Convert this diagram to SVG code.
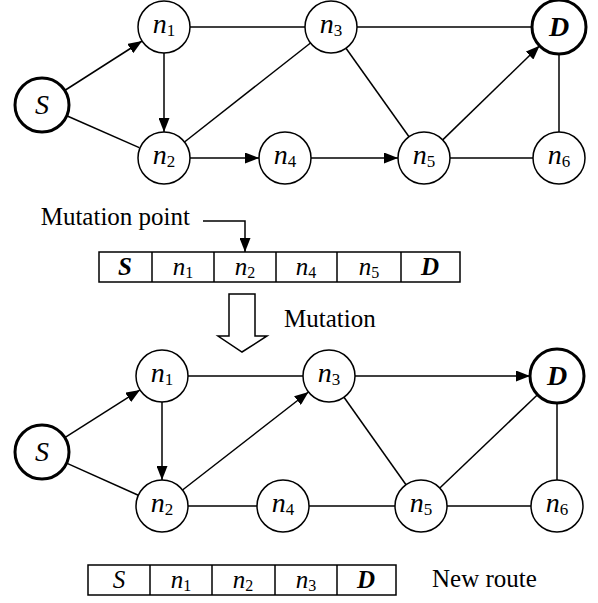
<svg xmlns="http://www.w3.org/2000/svg" width="598" height="603" viewBox="0 0 598 603">
<defs>
<marker id="ah" markerUnits="userSpaceOnUse" markerWidth="14" markerHeight="11" refX="14" refY="5.5" orient="auto"><path d="M0,0 L14,5.5 L0,11 z" fill="#000"/></marker>
<style>
.nd{fill:#fff;stroke:#000;stroke-width:1.5}
.bd{fill:#fff;stroke:#000;stroke-width:3}
.e{stroke:#000;stroke-width:1.5;fill:none}
.a{stroke:#000;stroke-width:1.5;fill:none;marker-end:url(#ah)}
text{font-family:'Liberation Serif','DejaVu Serif',serif;fill:#000}
.lb{font-size:28px;font-style:italic;text-anchor:middle}
.sb{font-style:normal;font-size:17px}
.bl{font-weight:bold}
.tx{font-size:25px}
.cell{fill:#fff;stroke:#000;stroke-width:1.5}
.tl{font-size:25px;font-style:italic;text-anchor:middle}
.ts{font-style:normal;font-size:16px}
</style>
</defs>
<rect width="598" height="603" fill="#fff"/>
<g id="connectors">
<line class="a" x1="64.7" y1="90.5" x2="142.1" y2="41"/>
<line class="e" x1="66.7" y1="115.8" x2="139.2" y2="147.6"/>
<line class="a" x1="164" y1="53" x2="164" y2="132"/>
<line class="e" x1="190" y1="27" x2="305" y2="27"/>
<line class="e" x1="184.5" y1="142" x2="310.5" y2="43"/>
<line class="a" x1="190" y1="158" x2="259" y2="158"/>
<line class="a" x1="311" y1="158" x2="398" y2="158"/>
<line class="e" x1="357" y1="27" x2="532" y2="27"/>
<line class="e" x1="346" y1="48.2" x2="409" y2="136.8"/>
<line class="a" x1="442.7" y1="139.9" x2="539.6" y2="45.8"/>
<line class="e" x1="559" y1="54" x2="559" y2="132"/>
<line class="e" x1="450" y1="158" x2="533" y2="158"/>
<polyline class="a" points="203,221 245,221 245,252"/>
<path d="M229,294 H255 V336 H267 L242,352 L218,336 H229 Z" fill="#fff" stroke="#000" stroke-width="1.5"/>
<line class="a" x1="64.8" y1="437.6" x2="140" y2="389.9"/>
<line class="e" x1="66.6" y1="463.1" x2="138.3" y2="495.3"/>
<line class="a" x1="162" y1="402" x2="162" y2="480"/>
<line class="e" x1="188" y1="376" x2="303" y2="376"/>
<line class="a" x1="182.5" y1="490" x2="308.5" y2="392"/>
<line class="e" x1="188" y1="506" x2="257" y2="506"/>
<line class="e" x1="309" y1="506" x2="395" y2="506"/>
<line class="a" x1="355" y1="376" x2="530" y2="376"/>
<line class="e" x1="344" y1="397.2" x2="406" y2="484.8"/>
<line class="e" x1="439.8" y1="488" x2="537.5" y2="394.7"/>
<line class="e" x1="557" y1="403" x2="557" y2="480"/>
<line class="e" x1="447" y1="506" x2="531" y2="506"/>
</g>
<g id="t-S"><circle class="bd" cx="42" cy="105" r="27"/><text class="lb" x="42" y="114">S</text></g>
<g id="t-n1"><circle class="nd" cx="164" cy="27" r="26"/><text class="lb" x="164" y="33">n<tspan class="sb" dy="3">1</tspan></text></g>
<g id="t-n2"><circle class="nd" cx="164" cy="158" r="26"/><text class="lb" x="164" y="164">n<tspan class="sb" dy="3">2</tspan></text></g>
<g id="t-n3"><circle class="nd" cx="331" cy="27" r="26"/><text class="lb" x="331" y="33">n<tspan class="sb" dy="3">3</tspan></text></g>
<g id="t-n4"><circle class="nd" cx="285" cy="158" r="26"/><text class="lb" x="285" y="164">n<tspan class="sb" dy="3">4</tspan></text></g>
<g id="t-n5"><circle class="nd" cx="424" cy="158" r="26"/><text class="lb" x="424" y="164">n<tspan class="sb" dy="3">5</tspan></text></g>
<g id="t-n6"><circle class="nd" cx="559" cy="158" r="26"/><text class="lb" x="559" y="164">n<tspan class="sb" dy="3">6</tspan></text></g>
<g id="t-D"><circle class="bd" cx="559" cy="27" r="27"/><text class="lb bl" x="559" y="36">D</text></g>
<g id="mutation-point"><text class="tx" x="190" y="225" text-anchor="end">Mutation point</text></g>
<g id="route-old">
<rect class="cell" x="99" y="252" width="361" height="30"/>
<line class="e" x1="152" y1="252" x2="152" y2="282"/>
<line class="e" x1="214" y1="252" x2="214" y2="282"/>
<line class="e" x1="276" y1="252" x2="276" y2="282"/>
<line class="e" x1="337" y1="252" x2="337" y2="282"/>
<line class="e" x1="401" y1="252" x2="401" y2="282"/>
<text class="tl bl" x="125" y="275">S</text>
<text class="tl" x="183" y="275">n<tspan class="ts" dy="3">1</tspan></text>
<text class="tl" x="245" y="275">n<tspan class="ts" dy="3">2</tspan></text>
<text class="tl" x="306" y="275">n<tspan class="ts" dy="3">4</tspan></text>
<text class="tl" x="369" y="275">n<tspan class="ts" dy="3">5</tspan></text>
<text class="tl bl" x="430" y="275">D</text>
</g>
<g id="mutation-label"><text class="tx" x="284" y="327">Mutation</text></g>
<g id="b-S"><circle class="bd" cx="42" cy="452" r="27"/><text class="lb" x="42" y="461">S</text></g>
<g id="b-n1"><circle class="nd" cx="162" cy="376" r="26"/><text class="lb" x="162" y="382">n<tspan class="sb" dy="3">1</tspan></text></g>
<g id="b-n2"><circle class="nd" cx="162" cy="506" r="26"/><text class="lb" x="162" y="512">n<tspan class="sb" dy="3">2</tspan></text></g>
<g id="b-n3"><circle class="nd" cx="329" cy="376" r="26"/><text class="lb" x="329" y="382">n<tspan class="sb" dy="3">3</tspan></text></g>
<g id="b-n4"><circle class="nd" cx="283" cy="506" r="26"/><text class="lb" x="283" y="512">n<tspan class="sb" dy="3">4</tspan></text></g>
<g id="b-n5"><circle class="nd" cx="421" cy="506" r="26"/><text class="lb" x="421" y="512">n<tspan class="sb" dy="3">5</tspan></text></g>
<g id="b-n6"><circle class="nd" cx="557" cy="506" r="26"/><text class="lb" x="557" y="512">n<tspan class="sb" dy="3">6</tspan></text></g>
<g id="b-D"><circle class="bd" cx="557" cy="376" r="27"/><text class="lb bl" x="557" y="385">D</text></g>
<g id="route-new">
<rect class="cell" x="88" y="565" width="308" height="30"/>
<line class="e" x1="150" y1="565" x2="150" y2="595"/>
<line class="e" x1="212" y1="565" x2="212" y2="595"/>
<line class="e" x1="275" y1="565" x2="275" y2="595"/>
<line class="e" x1="337" y1="565" x2="337" y2="595"/>
<text class="tl" x="119" y="588">S</text>
<text class="tl" x="181" y="588">n<tspan class="ts" dy="3">1</tspan></text>
<text class="tl" x="243" y="588">n<tspan class="ts" dy="3">2</tspan></text>
<text class="tl" x="306" y="588">n<tspan class="ts" dy="3">3</tspan></text>
<text class="tl bl" x="366" y="588">D</text>
</g>
<g id="new-route-label"><text class="tx" x="432" y="587">New route</text></g>
</svg>
